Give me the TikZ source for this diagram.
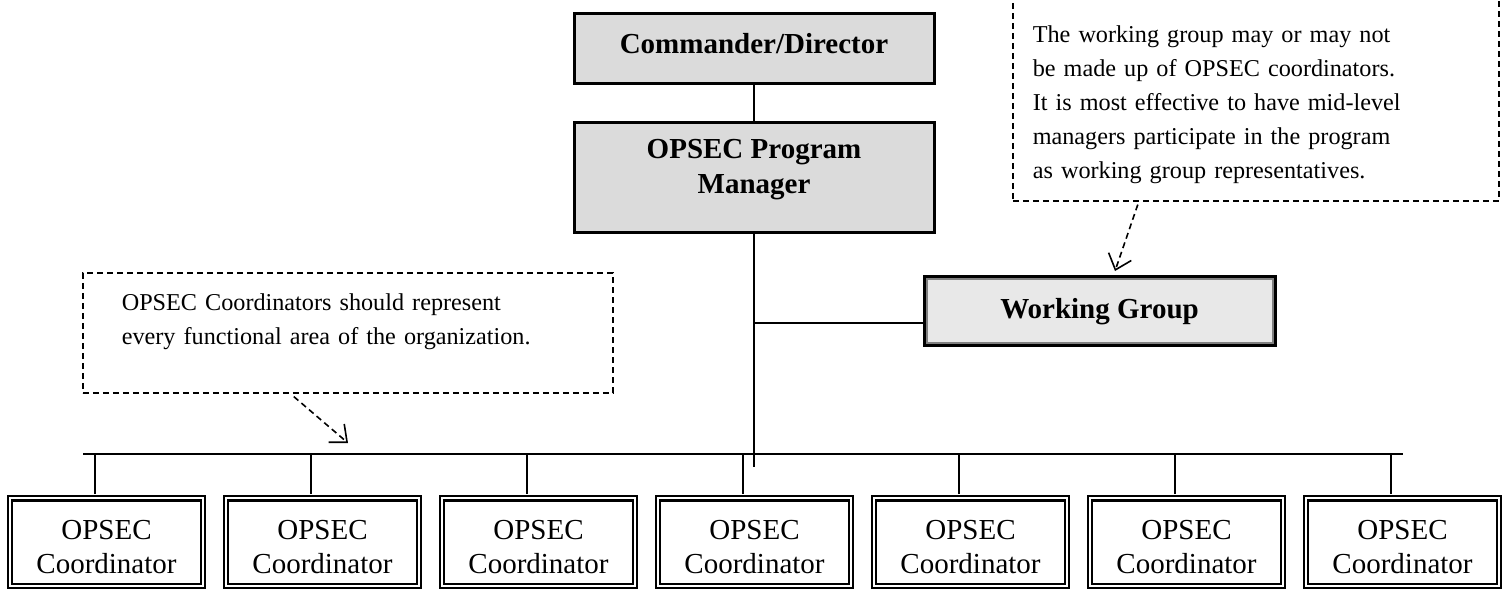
\documentclass[tikz,border=0pt]{standalone}
\usepackage{fontspec}
\setmainfont{Liberation Serif}
\usetikzlibrary{arrows.meta}
\begin{document}
\begin{tikzpicture}[x=1pt,y=-1pt,
  titlebox/.style={draw=black, line width=3pt, fill=black!14, inner sep=0pt,
    font=\fontsize{29}{35}\selectfont\bfseries, align=center},
  wgbox/.style={draw=black, line width=3pt, fill=black!9, inner sep=0pt,
    font=\fontsize{29}{35}\selectfont\bfseries, align=center,
    path picture={\draw[black!50, line width=2pt]
      ([shift={(2.5pt,-2.5pt)}]path picture bounding box.north west) rectangle
      ([shift={(-2.5pt,2.5pt)}]path picture bounding box.south east);}},
  coordbox/.style={draw=black, line width=2.2pt, double=white, double distance=2pt,
    inner sep=0pt, minimum width=192.6pt, text height=74.8pt, text depth=12.8pt,
    font=\fontsize{29}{34}\selectfont, align=center},
  notebox/.style={draw=black, line width=1.6pt, dash pattern=on 6pt off 4pt,
    inner ysep=0pt, align=left, font=\fontsize{24.2}{34}\selectfont},
  link/.style={draw=black, line width=2pt},
  callout/.style={line width=1.6pt, dash pattern=on 6pt off 4pt,
    -{Straight Barb[length=14pt,width=24pt,line width=1.6pt]}}
]
\useasboundingbox (0,0) rectangle (1509,589);

% top boxes
\node[titlebox, minimum width=360pt, text height=40.5pt, text depth=29.5pt, anchor=north]
  (cd) at (754,11.5) {Commander/Director};
\node[titlebox, minimum width=360pt, text height=71.5pt, text depth=38.5pt, anchor=north]
  (pm) at (754,120.5) {OPSEC Program\\Manager};
\node[wgbox, minimum width=351pt, text height=42.5pt, text depth=26.5pt, anchor=north west]
  (wg) at (922.5,274.5) {Working Group};

% notes
\node[notebox, inner xsep=20pt, text width=446pt, text height=45pt, text depth=158pt, anchor=north west]
  (rn) at (1012,-3) {The working group may or may not\\be made up of OPSEC coordinators.\\It is most effective to have mid-level\\managers participate in the program\\as working group representatives.};
\node[notebox, inner xsep=39pt, text width=452pt, text height=38pt, text depth=82pt, anchor=north west]
  (ln) at (82,272) {OPSEC Coordinators should represent\\every functional area of the organization.};

% coordinators
\foreach \i in {1,...,7}
  \node[coordbox, anchor=north] (c\i) at ({106.5+216*(\i-1)},497.2) {OPSEC\\Coordinator};

% connectors
\coordinate (busL) at (83,454);
\coordinate (busR) at (1403,454);
\coordinate (trunkEnd) at (754,467);
\coordinate (j) at (754,323);
\draw[link] (cd.south) -- (pm.north);
\draw[link] (pm.south) -- (trunkEnd);
\draw[link] (j) -- (j -| wg.west);
\draw[link] (busL) -- (busR);
\foreach \i in {1,...,7}
  \draw[link] ([xshift=-12pt,yshift=3.2pt]c\i.north) -- ([xshift=-12pt]c\i.north |- busL);

% callout arrows
\coordinate (la) at (348,443);
\coordinate (ra) at (1115,271);
\draw[callout] ([xshift=-54pt,yshift=-3pt]ln.south) -- (la);
\draw[callout] ([xshift=-118pt,yshift=-3pt]rn.south) -- (ra);
\end{tikzpicture}
\end{document}
